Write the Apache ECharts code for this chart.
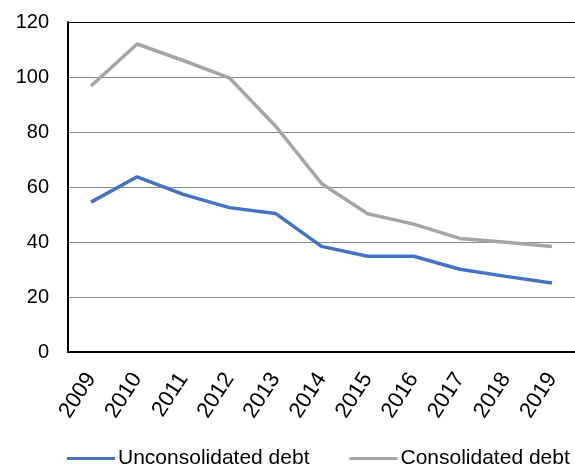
<!DOCTYPE html>
<html>
<head>
  <meta charset="utf-8" />
  <title>debt chart</title>
  <style>
    html, body { margin: 0; padding: 0; background: #fff; }
    #chart { width: 575px; height: 468px; }
  </style>
</head>
<body>
  <div id="chart"></div>
  <script src="https://cdn.jsdelivr.net/npm/echarts@6/dist/echarts.min.js"></script>
  <script>
    var years = ['2009', '2010', '2011', '2012', '2013', '2014', '2015', '2016', '2017', '2018', '2019'];
    var unconsolidated = [54.5, 63.7, 57.3, 52.5, 50.4, 38.4, 34.8, 34.8, 30.1, 27.5, 25.1];
    var consolidated = [96.7, 112, 106, 99.7, 82.2, 61.3, 50.3, 46.5, 41.3, 39.9, 38.4];
    var seriesNames = ['Unconsolidated debt', 'Consolidated debt'];

    var _font = 'Liberation Sans, Arial, sans-serif';
    var myChart = echarts.init(document.getElementById('chart'));
    var option = {
      animation: false,
      legend: {
        data: seriesNames,
        top: 443,
        left: 62,
        itemWidth: 48,
        itemHeight: 3,
        itemGap: 40,
        icon: 'rect',
        textStyle: { fontSize: 21, color: '#000', fontFamily: _font, padding: [0, 0, 0, -2] }
      },
      grid: { left: 68, top: 22, right: 0, bottom: 116 },
      xAxis: {
        type: 'category',
        data: years,
        boundaryGap: true,
        axisLine: { lineStyle: { color: '#000', width: 2 } },
        axisTick: { inside: true, length: 6, lineStyle: { color: '#000', width: 1.5 } },
        axisLabel: { rotate: 57, fontSize: 22, color: '#000', fontFamily: _font, margin: 23 }
      },
      yAxis: {
        type: 'value',
        min: 0,
        max: 120,
        interval: 20,
        axisLine: { show: true, lineStyle: { color: '#000', width: 2 } },
        axisTick: { show: false },
        axisLabel: { fontSize: 20, color: '#000', fontFamily: _font, margin: 19 },
        splitLine: {
          lineStyle: {
            color: ['#8c8c8c', '#8c8c8c', '#8c8c8c', '#8c8c8c', '#8c8c8c', '#8c8c8c', '#000'],
            width: 1.2
          }
        }
      },
      series: [{
        name: seriesNames[0],
        type: 'line',
        data: unconsolidated,
        symbol: 'none',
        lineStyle: { color: '#4472C4', width: 3.5 },
        itemStyle: { color: '#4472C4' }
      }, {
        name: seriesNames[1],
        type: 'line',
        data: consolidated,
        symbol: 'none',
        lineStyle: { color: '#A5A5A5', width: 3.5 },
        itemStyle: { color: '#A5A5A5' }
      }]
    };
    myChart.setOption(option);
  </script>
</body>
</html>
